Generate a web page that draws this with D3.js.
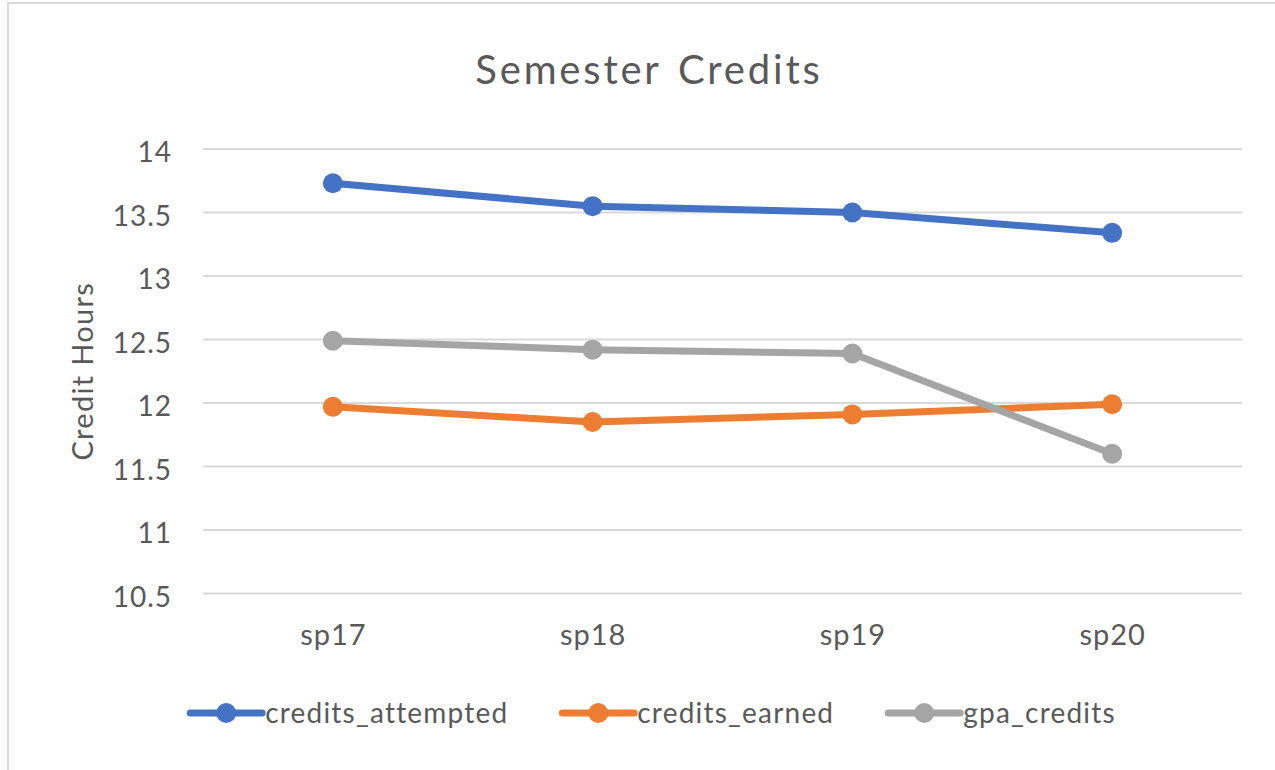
<!DOCTYPE html>
<meta charset="utf-8">
<style>
    body {
        margin: 0;
        background: #fff;
        font-family: Lato, "Open Sans", sans-serif;
    }

    .grid line {
        stroke: #d9d9d9;
        stroke-width: 2;
    }

    .tick text {
        fill: #595959;
    }
</style>

<body>
    <svg width="1275" height="770"></svg>

    <script src="https://d3js.org/d3.v7.min.js"></script>
    <script>
        // data
        const semesters = ["sp17", "sp18", "sp19", "sp20"];
        const creditsAttempted = [13.73, 13.55, 13.50, 13.34];
        const creditsEarned = [11.97, 11.85, 11.91, 11.99];
        const gpaCredits = [12.49, 12.42, 12.39, 11.60];
        const yTicks = [10.5, 11, 11.5, 12, 12.5, 13, 13.5, 14];

        const seriesNames = ["credits_attempted", "credits_earned", "gpa_credits"];
        const seriesColors = ["#4472c4", "#ed7d31", "#a5a5a5"];

        const series = [creditsAttempted, creditsEarned, gpaCredits].map((values, i) => ({
            name: seriesNames[i],
            color: seriesColors[i],
            values: values.map((v, j) => ({ sem: semesters[j], v }))
        }));

        const svg = d3.select("svg");
        const textColor = "#595959";

        // chart border (cut off at right/bottom in the reference)
        svg.append("rect")
            .attr("x", 8).attr("y", 3)
            .attr("width", 1300).attr("height", 800)
            .attr("fill", "none")
            .attr("stroke", "#d9d9d9")
            .attr("stroke-width", 2);

        const plot = { left: 203, right: 1242, top: 149, bottom: 593.5 };

        const x = d3.scalePoint()
            .domain(semesters)
            .range([plot.left, plot.right])
            .padding(0.5);

        const y = d3.scaleLinear()
            .domain([10.5, 14])
            .range([plot.bottom, plot.top]);

        // gridlines
        svg.append("g")
            .attr("class", "grid")
            .selectAll("line")
            .data(yTicks)
            .join("line")
            .attr("x1", plot.left)
            .attr("x2", plot.right)
            .attr("y1", d => y(d))
            .attr("y2", d => y(d));

        // y axis labels
        const yAxis = svg.append("g")
            .attr("transform", `translate(${plot.left - 31},0)`)
            .call(d3.axisLeft(y).tickValues(yTicks).tickSize(0).tickPadding(0).tickFormat(d3.format("")));
        yAxis.select(".domain").remove();
        yAxis.selectAll("text")
            .attr("dy", "0.45em")
            .style("font-size", "28px")
            .style("letter-spacing", "1px")
            .style("font-family", "Lato, sans-serif");

        // x axis labels
        const xAxis = svg.append("g")
            .attr("transform", `translate(0,${plot.bottom})`)
            .call(d3.axisBottom(x).tickSize(0).tickPadding(0));
        xAxis.select(".domain").remove();
        xAxis.selectAll("text")
            .attr("y", 51)
            .attr("dy", 0)
            .style("font-size", "29px")
            .style("letter-spacing", "1px")
            .style("font-family", "Lato, sans-serif");

        // title
        svg.append("text")
            .attr("x", 649)
            .attr("y", 84)
            .attr("text-anchor", "middle")
            .attr("fill", textColor)
            .style("font-size", "40px")
            .style("letter-spacing", "2.8px")
            .style("word-spacing", "4px")
            .text("Semester Credits");

        // y axis title
        svg.append("text")
            .attr("transform", `translate(93,${(plot.top + plot.bottom) / 2}) rotate(-90)`)
            .attr("text-anchor", "middle")
            .attr("fill", textColor)
            .style("font-size", "29px")
            .style("letter-spacing", "1.3px")
            .text("Credit Hours");

        // lines and markers
        const line = d3.line()
            .x(d => x(d.sem))
            .y(d => y(d.v));

        const g = svg.append("g");
        series.forEach(s => {
            g.append("path")
                .datum(s.values)
                .attr("d", line)
                .attr("fill", "none")
                .attr("stroke", s.color)
                .attr("stroke-width", 7)
                .attr("stroke-linejoin", "round");
            g.selectAll(null)
                .data(s.values)
                .join("circle")
                .attr("cx", d => x(d.sem))
                .attr("cy", d => y(d.v))
                .attr("r", 10)
                .attr("fill", s.color);
        });

        // legend, centred under the chart
        const legend = svg.append("g").attr("transform", "translate(0,713)");
        const items = legend.selectAll("g")
            .data(series)
            .join("g");
        items.append("line")
            .attr("x1", 0).attr("x2", 72)
            .attr("stroke", d => d.color)
            .attr("stroke-width", 7)
            .attr("stroke-linecap", "round");
        items.append("circle")
            .attr("cx", 36)
            .attr("r", 10)
            .attr("fill", d => d.color);
        items.append("text")
            .attr("x", 75)
            .attr("y", 10)
            .attr("fill", textColor)
            .style("font-size", "28px")
            .style("letter-spacing", "1.2px")
            .text(d => d.name);

        let offset = 0;
        const widths = [];
        items.each(function () {
            widths.push(this.getBBox().width);
        });
        const gap = 54;
        const total = d3.sum(widths) + gap * (widths.length - 1);
        offset = 653 - total / 2;
        items.attr("transform", (d, i) => {
            const t = `translate(${offset},0)`;
            offset += widths[i] + gap;
            return t;
        });
    </script>
</body>
